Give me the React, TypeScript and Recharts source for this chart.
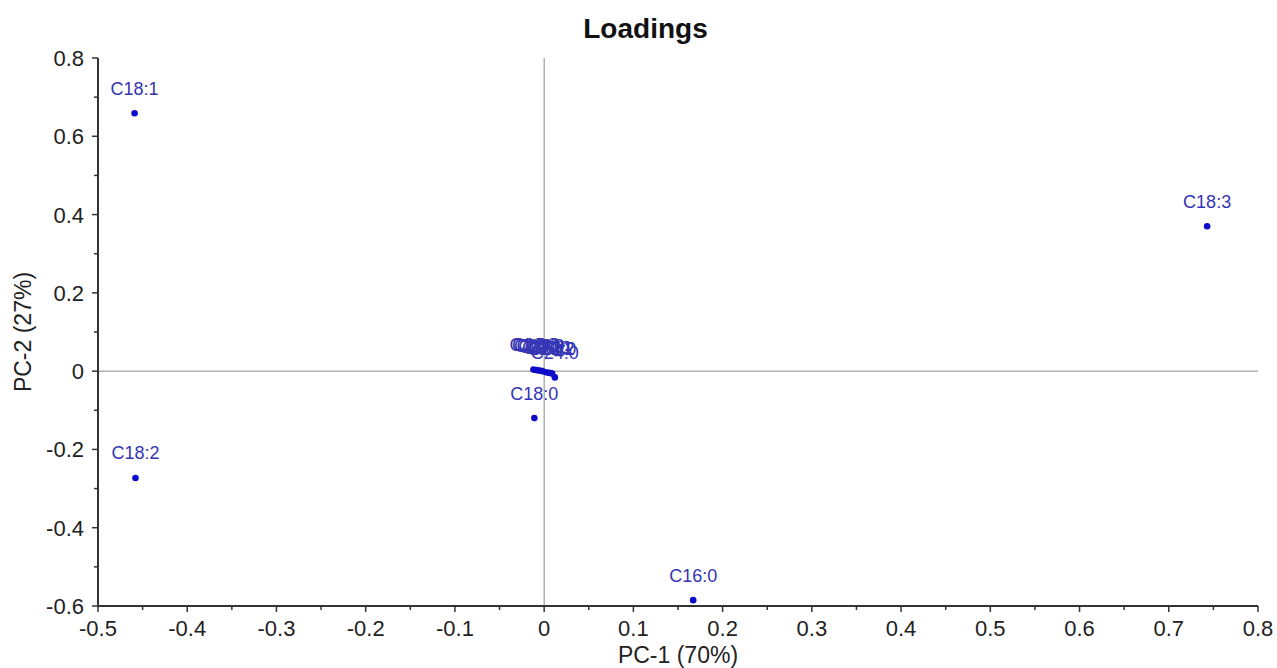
import { ScatterChart, Scatter, XAxis, YAxis, ReferenceLine, LabelList, Label } from 'recharts';

// Loadings of the fatty acids on the first two principal components
const names = ['C18:1', 'C18:2', 'C18:3', 'C16:0', 'C18:0', 'C14:0', 'C15:0', 'C16:1', 'C17:0', 'C17:1', 'C20:0', 'C20:1', 'C20:2', 'C22:0', 'C24:0'];
const pc1 = [-0.459, -0.458, 0.743, 0.167, -0.011, -0.012, -0.009, -0.007, -0.004, -0.002, 0.002, 0.005, 0.007, 0.009, 0.012];
const pc2 = [0.659, -0.273, 0.37, -0.585, -0.12, 0.004, 0.003, 0.002, 0.001, 0.0, -0.003, -0.004, -0.005, -0.006, -0.016];

const xTicks = [-0.5, -0.45, -0.4, -0.35, -0.3, -0.25, -0.2, -0.15, -0.1, -0.05, 0, 0.05, 0.1, 0.15, 0.2, 0.25, 0.3, 0.35, 0.4, 0.45, 0.5, 0.55, 0.6, 0.65, 0.7, 0.75, 0.8];
const yTicks = [-0.6, -0.5, -0.4, -0.3, -0.2, -0.1, 0, 0.1, 0.2, 0.3, 0.4, 0.5, 0.6, 0.7, 0.8];

const points = names.map((name, i) => ({ name, x: pc1[i], y: pc2[i] }));

const FONT = 'Liberation Sans, Arial, sans-serif';
const AXIS = '#333';

const isMultiple = (v: number, step: number) => Math.abs(v / step - Math.round(v / step)) < 1e-6;
const fmt = (v: number) => (Math.abs(v) < 1e-9 ? '0' : v.toFixed(1));

const XTick = (props: any) => {
  const { x, y, payload } = props;
  const major = isMultiple(payload.value, 0.1);
  return (
    <g>
      <line x1={x} x2={x} y1={y} y2={y + (major ? 6 : 4)} stroke={AXIS} strokeWidth={1.5} />
      {major && (
        <text x={x} y={y + 30} textAnchor="middle" fontSize={22} fontFamily={FONT} fill="#222">
          {fmt(payload.value)}
        </text>
      )}
    </g>
  );
};

const YTick = (props: any) => {
  const { x, y, payload } = props;
  const major = isMultiple(payload.value, 0.2);
  return (
    <g>
      <line x1={x} x2={x - (major ? 6 : 4)} y1={y} y2={y} stroke={AXIS} strokeWidth={1.5} />
      {major && (
        <text x={x - 14} y={y + 8} textAnchor="end" fontSize={22} fontFamily={FONT} fill="#222">
          {fmt(payload.value)}
        </text>
      )}
    </g>
  );
};

const Dot = (props: any) => <circle cx={props.cx} cy={props.cy} r={3.3} fill="#0c0cc8" />;

export default function App() {
  return (
    <div style={{ position: 'absolute', left: 0, top: 0, width: 1277, height: 668, background: '#fff' }}>
      <div
        style={{
          position: 'absolute',
          left: 0,
          width: 1291,
          top: 14,
          textAlign: 'center',
          fontFamily: FONT,
          fontWeight: 'bold',
          fontSize: 28,
          lineHeight: '30px',
          color: '#111',
          zIndex: 2,
        }}
      >
        Loadings
      </div>
      <ScatterChart width={1277} height={668} margin={{ top: 58, right: 19, bottom: 0, left: 38 }}>
        <XAxis
          type="number"
          dataKey="x"
          domain={[-0.5, 0.8]}
          ticks={xTicks}
          interval={0}
          tick={<XTick />}
          tickLine={false}
          tickSize={0}
          tickMargin={0}
          height={62}
          axisLine={{ stroke: AXIS, strokeWidth: 2 }}
        >
          <Label
            content={() => (
              <text x={678} y={663} textAnchor="middle" fontSize={23} fontFamily={FONT} fill="#222">
                PC-1 (70%)
              </text>
            )}
          />
        </XAxis>
        <YAxis
          type="number"
          dataKey="y"
          domain={[-0.6, 0.8]}
          ticks={yTicks}
          interval={0}
          tick={<YTick />}
          tickLine={false}
          tickSize={0}
          tickMargin={0}
          width={60}
          axisLine={{ stroke: AXIS, strokeWidth: 2 }}
        >
          <Label
            content={() => (
              <text
                x={31}
                y={332}
                textAnchor="middle"
                fontSize={23}
                fontFamily={FONT}
                fill="#222"
                transform="rotate(-90, 31, 332)"
              >
                PC-2 (27%)
              </text>
            )}
          />
        </YAxis>
        <ReferenceLine x={0} stroke="#8a8a8a" strokeWidth={1} />
        <ReferenceLine y={0} stroke="#8a8a8a" strokeWidth={1} />
        <Scatter data={points} shape={<Dot />} isAnimationActive={false}>
          <LabelList dataKey="name" position="top" offset={14} fontSize={18} fontFamily={FONT} fill="#3434b4" />
        </Scatter>
      </ScatterChart>
    </div>
  );
}
